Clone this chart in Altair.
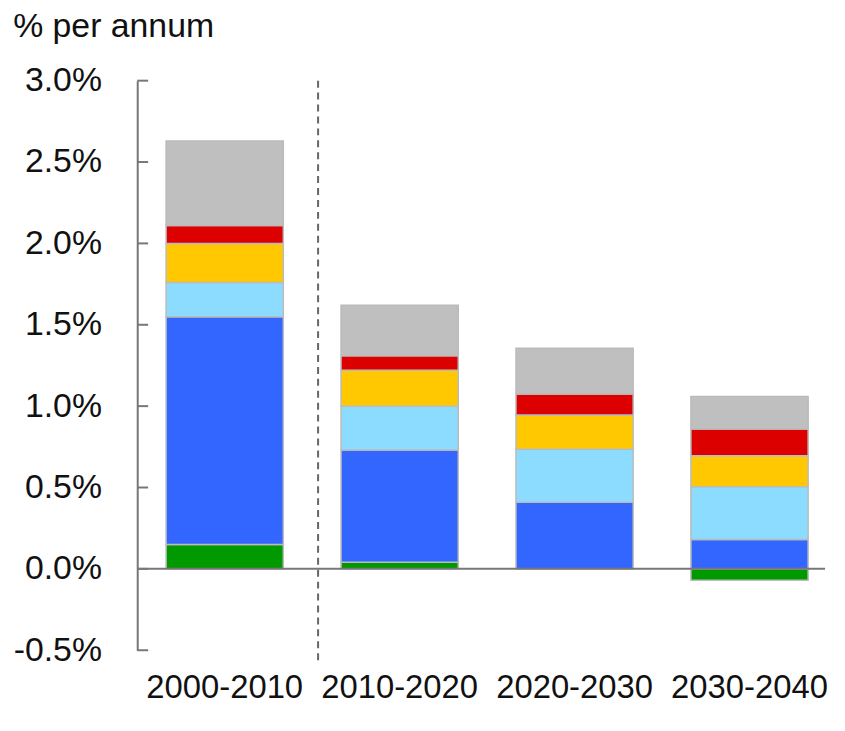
import altair as alt
import pandas as pd

periods = ["2000-2010", "2010-2020", "2020-2030", "2030-2040"]
components = ["green", "blue", "light blue", "yellow", "red", "grey"]
colors = ["#009900", "#3366FF", "#8BDCFF", "#FFC800", "#DD0000", "#BFBFBF"]

green = [0.15, 0.04, 0.0, -0.07]
blue = [1.40, 0.69, 0.41, 0.18]
light_blue = [0.21, 0.27, 0.325, 0.325]
yellow = [0.24, 0.22, 0.21, 0.19]
red = [0.11, 0.09, 0.13, 0.165]
grey = [0.52, 0.31, 0.28, 0.20]

y_ticks = [-0.5, 0.0, 0.5, 1.0, 1.5, 2.0, 2.5, 3.0]

series = [green, blue, light_blue, yellow, red, grey]
rows = []
for ci, (name, vals) in enumerate(zip(components, series)):
    for p, v in zip(periods, vals):
        rows.append({"period": p, "component": name, "value": v, "order": ci})
df = pd.DataFrame(rows)

FONT = "Liberation Sans"

xscale = alt.Scale(domain=periods, paddingInner=0.33, paddingOuter=0.165, range=[0, 704])
yscale = alt.Scale(domain=[-0.5, 3.0], nice=False, zero=False)

bars = alt.Chart(df).mark_bar(stroke="#BBBBBB", strokeWidth=1.5).encode(
    x=alt.X("period:N", scale=xscale, sort=periods,
            axis=alt.Axis(title=None, labelAngle=0, domain=False, ticks=False,
                          labelPadding=22, labelFontSize=33, labelFont=FONT,
                          labelColor="#111111")),
    y=alt.Y("value:Q", scale=yscale, stack="zero",
            axis=alt.Axis(title=None, values=y_ticks, ticks=False, grid=False,
                          domainColor="#777777", domainWidth=2,
                          labelExpr="(datum.value < 0 ? '-' : '') + format(abs(datum.value), '.1f') + '%'",
                          labelPadding=36, labelFontSize=34, labelFont=FONT,
                          labelColor="#111111")),
    color=alt.Color("component:N", scale=alt.Scale(domain=components, range=colors), legend=None),
    order=alt.Order("order:Q", sort="ascending"),
)

zero_df = pd.DataFrame({"y": [0.0]})
zero_line = alt.Chart(zero_df).mark_rule(color="#777777", strokeWidth=2).encode(
    y=alt.Y("y:Q", scale=yscale)
)

tick_df = pd.DataFrame({"y": y_ticks})
ticks = alt.Chart(tick_df).mark_rule(color="#777777", strokeWidth=2).encode(
    y=alt.Y("y:Q", scale=yscale),
    x=alt.value(0),
    x2=alt.value(11),
)

div_df = pd.DataFrame({"period": ["2000-2010"], "top": [3.0], "bottom": [-0.57]})
divider = alt.Chart(div_df).mark_rule(color="#666666", strokeWidth=2, strokeDash=[7, 5],
                                      xOffset=35).encode(
    x=alt.X("period:N", scale=xscale, sort=periods, bandPosition=1),
    y=alt.Y("top:Q", scale=yscale),
    y2="bottom:Q",
)

chart = alt.layer(bars, zero_line, ticks, divider).properties(
    width=692,
    height=573,
    padding={"left": 5, "top": 0, "right": 0, "bottom": 0},
    title=alt.TitleParams("% per annum", anchor="start", frame="bounds", fontSize=34,
                          font=FONT, fontWeight="normal", color="#111111", offset=20),
).configure_view(stroke=None, strokeWidth=0)

chart.save("out.html", embed_options={"renderer": "svg", "actions": False})
